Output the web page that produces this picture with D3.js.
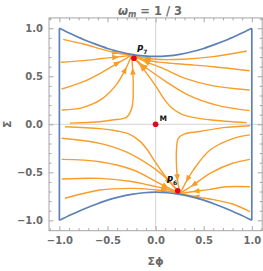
<!DOCTYPE html>
<html>
<head>
<meta charset="utf-8">
<script src="https://cdn.jsdelivr.net/npm/d3@7"></script>
<style>
  body { margin: 0; background: #fff; }
  svg { display: block; font-family: "DejaVu Sans", sans-serif; }
</style>
</head>
<body>
<svg id="chart" width="263" height="271"></svg>
<script>
// ticks
const majorTicks = [-1, -0.5, 0, 0.5, 1];
const minorTicks = [-1.1, -0.9, -0.8, -0.7, -0.6, -0.4, -0.3, -0.2, -0.1,
  0.1, 0.2, 0.3, 0.4, 0.6, 0.7, 0.8, 0.9, 1.1];

// blue boundary of the phase space
const boundaryX = [-1, -0.875, -0.75, -0.625, -0.5, -0.375, -0.25, -0.125, 0,
  0.125, 0.25, 0.375, 0.5, 0.625, 0.75, 0.875, 1];
const boundaryTop = [1, 0.94, 0.884, 0.835, 0.79, 0.755, 0.729, 0.713, 0.707,
  0.713, 0.729, 0.755, 0.79, 0.835, 0.884, 0.94, 1];
const boundaryBottom = [-1, -0.94, -0.884, -0.835, -0.79, -0.755, -0.729, -0.713, -0.707,
  -0.713, -0.729, -0.755, -0.79, -0.835, -0.884, -0.94, -1];

// stream lines flowing into P7 (upper half)
const upperStreams = [
  [[-0.96, 0.885], [-0.75, 0.836], [-0.55, 0.78], [-0.4, 0.742], [-0.25, 0.72]],
  [[-0.984, 0.646], [-0.75, 0.663], [-0.55, 0.685], [-0.4, 0.7], [-0.25, 0.72]],
  [[-0.977, 0.368], [-0.75, 0.444], [-0.55, 0.545], [-0.4, 0.635], [-0.3, 0.69], [-0.25, 0.72]],
  [[-0.977, 0.149], [-0.75, 0.177], [-0.55, 0.27], [-0.41, 0.41], [-0.31, 0.58], [-0.25, 0.72]],
  [[-0.891, 0.012], [-0.58, 0.027], [-0.45, 0.045], [-0.3, 0.075], [-0.245, 0.18], [-0.232, 0.4], [-0.24, 0.6], [-0.25, 0.72]],
  [[0.947, 0.763], [0.6, 0.705], [0.29, 0.678], [0.05, 0.675], [-0.1, 0.69], [-0.25, 0.72]],
  [[0.978, 0.558], [0.6, 0.6], [0.29, 0.625], [0.06, 0.645], [-0.1, 0.67], [-0.25, 0.72]],
  [[0.978, 0.357], [0.6, 0.4], [0.3, 0.48], [0.06, 0.59], [-0.1, 0.65], [-0.25, 0.72]],
  [[0.978, 0.142], [0.635, 0.2], [0.33, 0.31], [0.1, 0.45], [-0.06, 0.56], [-0.18, 0.65], [-0.25, 0.72]],
  [[0.947, 0.017], [0.58, 0.045], [0.4, 0.07], [0.28, 0.1], [0.17, 0.17], [0.09, 0.26], [0.0, 0.4], [-0.1, 0.54], [-0.18, 0.64], [-0.25, 0.72]]
];

// stream lines flowing into P6 (lower half)
const lowerStreams = [
  [[0.982, -0.91], [0.8, -0.83], [0.6, -0.785], [0.44, -0.758], [0.255, -0.72]],
  [[0.982, -0.65], [0.74, -0.65], [0.55, -0.68], [0.4, -0.7], [0.255, -0.72]],
  [[0.982, -0.365], [0.8, -0.406], [0.566, -0.51], [0.392, -0.632], [0.3, -0.69], [0.255, -0.72]],
  [[0.982, -0.11], [0.81, -0.146], [0.566, -0.268], [0.392, -0.477], [0.3, -0.63], [0.255, -0.72]],
  [[0.982, -0.015], [0.7, -0.035], [0.46, -0.075], [0.3, -0.1], [0.235, -0.15], [0.218, -0.25], [0.218, -0.45], [0.235, -0.63], [0.255, -0.72]],
  [[-0.942, -0.77], [-0.58, -0.684], [-0.232, -0.667], [0.011, -0.684], [0.15, -0.7], [0.255, -0.72]],
  [[-0.977, -0.57], [-0.58, -0.563], [-0.232, -0.598], [-0.06, -0.635], [0.1, -0.67], [0.255, -0.72]],
  [[-0.977, -0.365], [-0.58, -0.39], [-0.232, -0.476], [0.011, -0.6], [0.15, -0.67], [0.255, -0.72]],
  [[-0.977, -0.146], [-0.58, -0.198], [-0.3, -0.29], [0.0, -0.47], [0.15, -0.6], [0.255, -0.72]],
  [[-0.942, -0.025], [-0.58, -0.045], [-0.4, -0.07], [-0.28, -0.1], [-0.17, -0.17], [-0.09, -0.26], [0.0, -0.4], [0.1, -0.54], [0.18, -0.64], [0.255, -0.72]]
];

const pointNames = ["P", "P", "M"];
const pointSubs = ["7", "6", ""];
const pointX = [-0.225, 0.23, 0];
const pointY = [0.688, -0.692, 0];

const svg = d3.select("#chart");
const plotLeft = 49, plotRight = 262.2, plotTop = 17.9, plotBottom = 230.7;

const x = d3.scaleLinear().domain([-1.108, 1.108]).range([plotLeft, plotRight]);
const y = d3.scaleLinear().domain([-1.108, 1.108]).range([plotBottom, plotTop]);

const frameColor = "#a6a6a6";
const labelColor = "#6a6a6a";
const orange = "#f99d2a";
const blue = "#5e81b5";

// grid lines through the origin
svg.append("line")
  .attr("x1", x(0)).attr("x2", x(0)).attr("y1", plotTop).attr("y2", plotBottom)
  .attr("stroke", "#dcdcdc").attr("stroke-width", 1.2);
svg.append("line")
  .attr("x1", plotLeft).attr("x2", plotRight).attr("y1", y(0)).attr("y2", y(0))
  .attr("stroke", "#dcdcdc").attr("stroke-width", 1.2);

// frame with inward ticks
const fmt = d3.format(".1f");
const styleAxis = (g) => {
  g.select(".domain").remove();
  g.selectAll("line").attr("stroke", frameColor);
  g.selectAll("text").attr("fill", labelColor)
    .attr("font-family", "DejaVu Sans").attr("font-size", 10).attr("font-weight", "bold");
};

svg.append("g").attr("transform", `translate(0,${plotBottom})`)
  .call(d3.axisBottom(x).tickValues(majorTicks).tickSize(-4.5).tickPadding(6).tickFormat(fmt))
  .call(styleAxis);
svg.append("g").attr("transform", `translate(0,${plotBottom})`)
  .call(d3.axisBottom(x).tickValues(minorTicks).tickSize(-2.5).tickFormat(""))
  .call(styleAxis);
svg.append("g").attr("transform", `translate(${plotLeft},0)`)
  .call(d3.axisLeft(y).tickValues(majorTicks).tickSize(-4.5).tickPadding(6).tickFormat(fmt))
  .call(styleAxis);
svg.append("g").attr("transform", `translate(${plotLeft},0)`)
  .call(d3.axisLeft(y).tickValues(minorTicks).tickSize(-2.5).tickFormat(""))
  .call(styleAxis);
svg.append("g").attr("transform", `translate(0,${plotTop})`)
  .call(d3.axisTop(x).tickValues(majorTicks).tickSize(-4.5).tickFormat(""))
  .call(styleAxis);
svg.append("g").attr("transform", `translate(0,${plotTop})`)
  .call(d3.axisTop(x).tickValues(minorTicks).tickSize(-2.5).tickFormat(""))
  .call(styleAxis);
svg.append("g").attr("transform", `translate(${plotRight},0)`)
  .call(d3.axisRight(y).tickValues(majorTicks).tickSize(-4.5).tickFormat(""))
  .call(styleAxis);
svg.append("g").attr("transform", `translate(${plotRight},0)`)
  .call(d3.axisRight(y).tickValues(minorTicks).tickSize(-2.5).tickFormat(""))
  .call(styleAxis);

svg.append("rect")
  .attr("x", plotLeft).attr("y", plotTop)
  .attr("width", plotRight - plotLeft).attr("height", plotBottom - plotTop)
  .attr("fill", "none").attr("stroke", frameColor).attr("stroke-width", 1);

// stream lines with arrow heads
const smooth = d3.line()
  .x(d => x(d[0])).y(d => y(d[1]))
  .curve(d3.curveCatmullRom.alpha(0.5));

const streams = upperStreams.concat(lowerStreams);
const streamG = svg.append("g");
streamG.selectAll("path")
  .data(streams)
  .join("path")
  .attr("d", smooth)
  .attr("fill", "none")
  .attr("stroke", orange)
  .attr("stroke-width", 1.4);

streamG.selectAll("path").each(function () {
  const len = this.getTotalLength();
  const at = Math.max(len - 16, 0);
  const p = this.getPointAtLength(at);
  const q = this.getPointAtLength(Math.min(at + 1, len));
  const ang = Math.atan2(q.y - p.y, q.x - p.x) * 180 / Math.PI;
  streamG.append("path")
    .attr("d", "M3.5,0L-3.5,-2.8L-3.5,2.8Z")
    .attr("fill", orange)
    .attr("transform", `translate(${p.x},${p.y}) rotate(${ang})`);
});

// boundary
const bLine = d3.line()
  .x(d => x(d[0])).y(d => y(d[1]))
  .curve(d3.curveCatmullRom.alpha(0.5));
const topPts = boundaryX.map((v, i) => [v, boundaryTop[i]]);
const botPts = boundaryX.map((v, i) => [v, boundaryBottom[i]]);
[topPts, botPts].forEach(pts => {
  svg.append("path").attr("d", bLine(pts))
    .attr("fill", "none").attr("stroke", blue).attr("stroke-width", 1.7);
});
[0, boundaryX.length - 1].forEach(i => {
  svg.append("line")
    .attr("x1", x(boundaryX[i])).attr("x2", x(boundaryX[i]))
    .attr("y1", y(boundaryTop[i])).attr("y2", y(boundaryBottom[i]))
    .attr("stroke", blue).attr("stroke-width", 1.7);
});

// fixed points
const labelOffsets = [[3, -6.5], [-11, -7.5], [4, -3.5]];
pointX.forEach((px, i) => {
  svg.append("circle")
    .attr("cx", x(px)).attr("cy", y(pointY[i])).attr("r", 2.8)
    .attr("fill", "#e8001c");
  const t = svg.append("text")
    .attr("x", x(px) + labelOffsets[i][0])
    .attr("y", y(pointY[i]) + labelOffsets[i][1])
    .attr("fill", "#111")
    .attr("font-weight", "bold")
    .attr("font-size", i < 2 ? 8.5 : 7.5);
  t.append("tspan").text(pointNames[i]).attr("font-style", i < 2 ? "italic" : "normal");
  if (pointSubs[i]) {
    t.append("tspan").text(pointSubs[i]).attr("font-size", 6).attr("dy", 2);
  }
});

// title and axis labels
const title = svg.append("text")
  .attr("x", 150).attr("y", 14.5)
  .attr("text-anchor", "middle")
  .attr("fill", labelColor).attr("font-weight", "bold").attr("font-size", 11.5);
title.append("tspan").text("ω").attr("font-style", "italic");
title.append("tspan").text("m").attr("font-style", "italic").attr("font-size", 8).attr("dy", 2.5);
title.append("tspan").text(" = 1 / 3").attr("dy", -2.5);

svg.append("text")
  .attr("x", x(0)).attr("y", 265)
  .attr("text-anchor", "middle")
  .attr("fill", labelColor).attr("font-weight", "bold").attr("font-size", 11)
  .text("Σϕ");

svg.append("text")
  .attr("transform", `translate(10.5,${y(0)}) rotate(-90)`)
  .attr("text-anchor", "middle")
  .attr("fill", labelColor).attr("font-weight", "bold").attr("font-size", 11)
  .text("Σ");
</script>
</body>
</html>
